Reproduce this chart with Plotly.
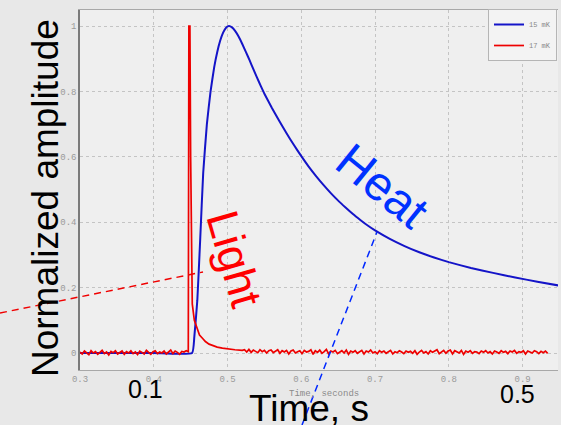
import plotly.graph_objects as go

# ---------------- data ----------------
# Heat (blue, 15 mK) pulse: time [s] and normalized amplitude
heat_t = [0.300, 0.350, 0.400, 0.452, 0.455, 0.459, 0.463, 0.467, 0.472, 0.477,
          0.482, 0.486, 0.490, 0.494, 0.498, 0.502, 0.506, 0.510, 0.515, 0.520,
          0.525, 0.530, 0.535, 0.540, 0.545, 0.550, 0.560, 0.570, 0.580, 0.590,
          0.600, 0.610, 0.620, 0.630, 0.640, 0.650, 0.660, 0.670, 0.680, 0.690,
          0.700, 0.720, 0.740, 0.760, 0.780, 0.800, 0.830, 0.860, 0.890, 0.920,
          0.950]
heat_y = [0.000, 0.000, 0.000, 0.000, 0.050, 0.160, 0.350, 0.550, 0.700, 0.800,
          0.875, 0.920, 0.955, 0.980, 0.995, 1.000, 0.996, 0.986, 0.968, 0.945,
          0.920, 0.895, 0.868, 0.842, 0.817, 0.793, 0.750, 0.710, 0.672, 0.636,
          0.602, 0.570, 0.541, 0.514, 0.489, 0.466, 0.445, 0.425, 0.407, 0.390,
          0.375, 0.349, 0.327, 0.308, 0.292, 0.278, 0.260, 0.245, 0.231, 0.218,
          0.206]

# Light (red, 17 mK) pulse
sample_step = 0.003
# baseline noise before the flash, from t = 0.300 (values in 1/1000)
light_pre_start = 0.300
light_pre_milli = [3, -3, 6, 1, -5, 7, 0, 4, -4, 2, 8, -2, 3, -6, 5, 1, 7, -3, 2, 6,
                   -4, 4, 0, 7, -2, 3, -5, 6, 2, -3, 8, 1, -4, 4, 7, -2, 3, 0, 6, -3,
                   4, 9, -2, 6, 2, -4, 5, 3, 7]
# the flash and its fast decay
light_peak_t = [0.4468, 0.4476, 0.4490, 0.4500, 0.4522, 0.4550, 0.4580, 0.4620,
                0.4660, 0.4700, 0.4750, 0.4800, 0.4860, 0.4930, 0.5000, 0.5100,
                0.5200]
light_peak_y = [0.004, 1.000, 1.000, 0.600, 0.150, 0.100, 0.080, 0.055,
                0.045, 0.035, 0.027, 0.022, 0.018, 0.015, 0.012, 0.010,
                0.008]
# baseline noise after the flash, from t = 0.523 (values in 1/1000)
light_post_start = 0.523
light_post_milli = [10, 3, 11, 2, 9, 5, 1, 10, 4, 8, 0, 7, 9, 1, 5, 10, -1, 7, 3, 8,
                    -3, 6, 9, 0, 4, 7, -2, 8, 3, 5, 10, -4, 7, 2, 9, -1, 4, 11, -3, 6,
                    3, 8, -2, 4, 7, 0, 9, -4, 6, 2, 7, -1, 4, 8, -3, 6, 3, 9, 0, 4,
                    -2, 7, 2, 6, -1, 3, 8, -3, 4, 1, 7, 3, -2, 6, 2, 5, -1, 7, -4, 3,
                    8, 0, 4, -3, 7, 2, 6, 10, -2, 4, 8, -1, 6, 9, -3, 7, 3, 0, 8, -4,
                    6, 2, 7, -1, 4, 3, -2, 6, 2, 7, 0, 4, -3, 6, 3, -1, 7, 2, 5, -2,
                    6, 3, 8, -1, 4, 2, 7, -3, 6, 3, 0, 7, 4, -2, 5, 1, 6, -1]

x_tick_vals = [0.3, 0.4, 0.5, 0.6, 0.7, 0.8, 0.9]
x_tick_text = ["0.3", "0.4", "0.5", "0.6", "0.7", "0.8", "0.9"]
y_tick_vals = [0, 0.2, 0.4, 0.6, 0.8, 1.0]
y_tick_text = ["0", "0.2", "0.4", "0.6", "0.8", "1"]

legend_names = ["15 mK", "17 mK"]

# build light series
light_t = [light_pre_start + i * sample_step for i in range(len(light_pre_milli))]
light_y = [v / 1000 for v in light_pre_milli]
light_t += light_peak_t
light_y += light_peak_y
light_t += [light_post_start + i * sample_step for i in range(len(light_post_milli))]
light_y += [v / 1000 for v in light_post_milli]

# ---------------- figure ----------------
W, H = 561, 425
ML, MR, MT, MB = 80, 3, 10, 55
PW, PH = W - ML - MR, H - MT - MB


def px(x):
    return (x - ML) / PW


def py(y):
    return (H - MB - y) / PH


fig = go.Figure()
fig.add_trace(go.Scatter(x=heat_t, y=heat_y, mode="lines", name=legend_names[0],
                         legendgroup="a", line=dict(color="rgb(20,20,200)", width=2,
                                                    shape="spline", smoothing=0.4)))
fig.add_trace(go.Scatter(x=light_t, y=light_y, mode="lines", name=legend_names[1],
                         legendgroup="b", line=dict(color="rgb(238,0,0)", width=1.7)))

tickfont = dict(family="Liberation Mono", size=9, color="#9a9a9a")
fig.update_layout(
    width=W, height=H,
    margin=dict(l=ML, r=MR, t=MT, b=MB),
    paper_bgcolor="#e8e8e8",
    plot_bgcolor="#efefef",
    showlegend=True,
    legend=dict(x=px(488), y=py(9), xanchor="left", yanchor="top",
                bgcolor="#f3f3f3", bordercolor="#b5b5b5", borderwidth=1,
                font=dict(family="Liberation Mono", size=7, color="#888"),
                tracegroupgap=2, itemwidth=30),
    xaxis=dict(range=[0.3, 0.948], tickvals=x_tick_vals, ticktext=x_tick_text,
               tickfont=tickfont, showgrid=True, gridcolor="#c4c4c4",
               griddash="3px,3px", gridwidth=1, zeroline=False,
               showline=True, linecolor="#a8a8a8", linewidth=1, mirror=True,
               ticks="", ticklen=0),
    yaxis=dict(range=[-0.052, 1.049], tickvals=y_tick_vals, ticktext=y_tick_text,
               tickfont=tickfont, showgrid=True, gridcolor="#c4c4c4",
               griddash="3px,3px", gridwidth=1, zeroline=False,
               showline=True, linecolor="#7a7a7a", linewidth=1.5,
               ticks="", ticklen=0),
)

# pointer lines
fig.add_shape(type="line", xref="paper", yref="paper",
              x0=px(0), y0=py(313), x1=px(203), y1=py(272),
              line=dict(color="rgb(240,0,0)", width=1.5, dash="7px,5px"))
fig.add_shape(type="line", xref="paper", yref="paper",
              x0=px(302), y0=py(425), x1=px(377), y1=py(232),
              line=dict(color="rgb(0,40,255)", width=1.5, dash="7px,5px"))


def note(text, x, y, size, color, angle=0, family="Liberation Sans"):
    fig.add_annotation(text=text, xref="paper", yref="paper", x=px(x), y=py(y),
                       xanchor="center", yanchor="middle", showarrow=False,
                       textangle=angle, font=dict(family=family, size=size, color=color))


note("Time, seconds", 324, 394, 9, "#8a8a8a", family="Liberation Mono")
note("Normalized amplitude", 46, 198, 37, "black", angle=-90)
note("Time, s", 309, 408, 37, "black")
note("0.1", 145, 389, 25, "black")
note("0.5", 517, 394, 25, "black")
note("Heat", 382, 185, 48, "rgb(0,50,255)", angle=39)
note("Light", 235, 259, 45, "rgb(255,0,0)", angle=74)

fig.write_html("out.html")
